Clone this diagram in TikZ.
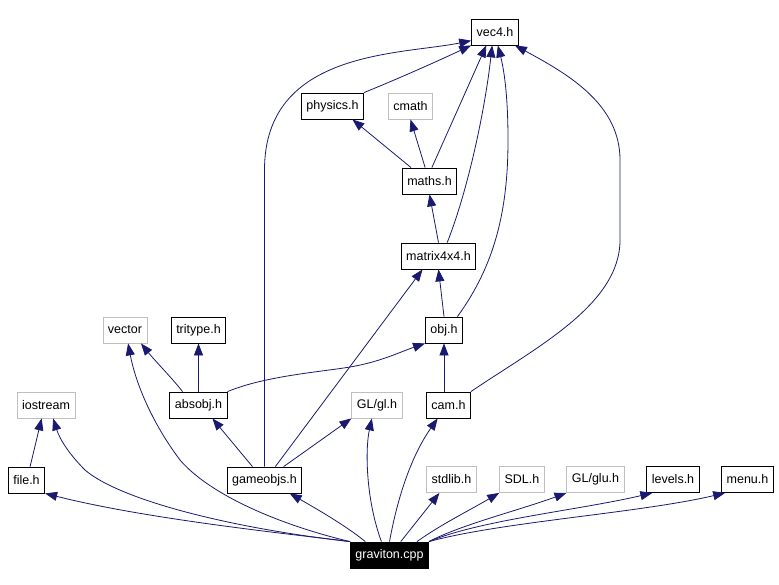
\documentclass[tikz,border=0pt]{standalone}
\usepackage{fontspec}
\setmainfont{Liberation Sans}
\usetikzlibrary{arrows.meta}
\definecolor{edgeblue}{HTML}{191970}
\definecolor{sysgray}{HTML}{BFBFBF}
\begin{document}
\begin{tikzpicture}[x=1pt,y=-1pt,>={Triangle[length=12pt,width=9pt]},
  box/.style={draw,line width=.8pt,minimum height=26pt,inner xsep=5pt,inner ysep=0pt,text=black,font=\fontsize{12.5}{14}\selectfont},
  hdr/.style={box,draw=black},sys/.style={box,draw=sysgray},src/.style={box,draw=black,fill=black,text=white},
  dep/.style={->,draw=edgeblue,line width=.8pt}]
\useasboundingbox (0,0) rectangle (779,585);
\node[hdr] (vecfour) at (495,32) {vec4.h};
\node[hdr] (physics) at (332.5,106) {physics.h};\node[sys] (cmath) at (410.5,106) {cmath};
\node[hdr] (maths) at (429.5,181) {maths.h};\node[hdr] (matrix) at (438.5,256) {matrix4x4.h};
\node[sys] (vector) at (125,330) {vector};\node[hdr] (tritype) at (198.5,330) {tritype.h};\node[hdr] (obj) at (444,330) {obj.h};
\node[sys] (iostream) at (46,405) {iostream};\node[hdr] (absobj) at (198.5,405) {absobj.h};
\node[sys] (glgl) at (377,405) {GL/gl.h};\node[hdr] (cam) at (448.5,405) {cam.h};
\node[hdr] (file) at (26.5,480) {file.h};\node[hdr] (gameobjs) at (264.5,480) {gameobjs.h};
\node[sys] (stdlib) at (451.5,479.5) {stdlib.h};\node[sys] (sdl) at (522,479.5) {SDL.h};\node[sys] (glglu) at (595.5,479.5) {GL/glu.h};
\node[hdr] (levels) at (673,479.5) {levels.h};\node[hdr] (menu) at (747.5,479.5) {menu.h};
\node[src] (graviton) at (389.5,555) {graviton.cpp};
\draw[dep] (physics.north east) .. controls (400,78) and (440,60) .. (vecfour.south west);
\draw[dep] (gameobjs.north) -- (264.5,170) .. controls (264.5,50) and (400,55) .. (vecfour.200);
\draw[dep] (maths.80) -- (vecfour.237);
\draw[dep] (matrix.57) .. controls (468,190) and (485,110) .. (vecfour.258);
\draw[dep] (obj.45) .. controls (495,265) and (508,210) .. (508,140) .. controls (508,95) and (504,70) .. (vecfour.282);
\draw[dep] (cam.north east) .. controls (535,348) and (620,305) .. (620,240) -- (620,160) .. controls (620,105) and (570,75) .. (vecfour.326);
\draw[dep] (maths.144) -- (physics.326);\draw[dep] (maths.108) -- (cmath.south);
\draw[dep] (matrix.north) -- (maths.south);\draw[dep] (obj.north) -- (matrix.south);
\draw[dep] (cam.north -| obj.south) -- (obj.south);
\draw[dep] (absobj.140) .. controls (172,378) and (156,362) .. (vector.320);\draw[dep] (absobj.north) -- (tritype.south);
\draw[dep] (absobj.north east) .. controls (265,376) and (320,372) .. (350,367) .. controls (380,362) and (400,352) .. (obj.south west);
\draw[dep] (gameobjs.132) -- (absobj.316);\draw[dep] (gameobjs.35) -- (glgl.south west);\draw[dep] (gameobjs.51) -- (matrix.220);
\draw[dep] (file.75) -- (iostream.252);
\draw[dep] (graviton.north west) .. controls (300,535) and (150,520) .. (file.south east);
\draw[dep] (graviton.north west) .. controls (230,528) and (120,500) .. (85,470) .. controls (70,455) and (60,440) .. (iostream.298);
\draw[dep] (graviton.north west) .. controls (280,525) and (210,495) .. (180,460) .. controls (150,420) and (135,380) .. (vector.283);
\draw[dep] (graviton.151) .. controls (345,525) and (315,508) .. (gameobjs.332);
\draw[dep] (graviton.121) .. controls (366,500) and (365,450) .. (glgl.249);
\draw[dep] (graviton.north) .. controls (398,495) and (412,455) .. (cam.231);
\draw[dep] (graviton.50) -- (stdlib.228);
\draw[dep] (graviton.26) .. controls (440,525) and (470,510) .. (sdl.south west);
\draw[dep] (graviton.north east) .. controls (460,525) and (520,510) .. (glglu.south west);
\draw[dep] (graviton.north east) .. controls (480,520) and (580,510) .. (levels.213);
\draw[dep] (graviton.north east) .. controls (500,522) and (640,513) .. (menu.211);
\end{tikzpicture}
\end{document}
